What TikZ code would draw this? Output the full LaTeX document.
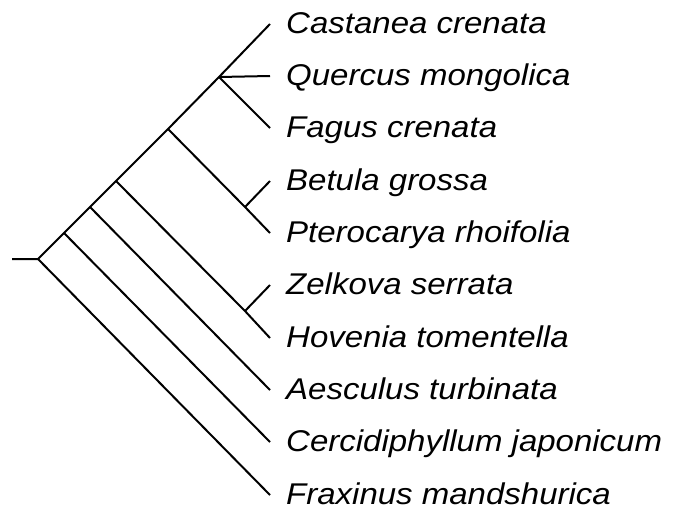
\documentclass[tikz,border=0pt]{standalone}
\usepackage{fontspec}
\setmainfont{Liberation Sans}
\newfontfamily\labfont[FakeStretch=1.1]{Liberation Sans}
\begin{document}
\begin{tikzpicture}[x=1pt,y=-1pt,
  branch/.style={line width=2pt, line join=round},
  taxon/.style={anchor=base west, inner sep=0pt, font=\labfont\itshape\fontsize{30}{31}\selectfont}]
\useasboundingbox (0,0) rectangle (676,512);
% tips
\coordinate (t0) at (270,24);
\coordinate (t1) at (270,76);
\coordinate (t2) at (270,128);
\coordinate (t3) at (270,181);
\coordinate (t4) at (270,233);
\coordinate (t5) at (270,285);
\coordinate (t6) at (270,338);
\coordinate (t7) at (270,390);
\coordinate (t8) at (270,442);
\coordinate (t9) at (270,495);
% internal nodes
\coordinate (stub) at (12,259);
\coordinate (r) at (38,259);
\coordinate (n1) at (64,233);
\coordinate (n2) at (90,207);
\coordinate (n3) at (116,181);
\coordinate (n4) at (168,129);
\coordinate (n5) at (219,77);
\coordinate (bp) at (245,207);
\coordinate (zh) at (245,311);
% branches
\draw[branch] (stub) -- (r) -- (n1) -- (n2) -- (n3) -- (n4) -- (n5) -- (t0);
\draw[branch] (n5) -- (t1);
\draw[branch] (n5) -- (t2);
\draw[branch] (n4) -- (bp) -- (t4);
\draw[branch] (bp) -- (t3);
\draw[branch] (n3) -- (zh) -- (t6);
\draw[branch] (zh) -- (t5);
\draw[branch] (n2) -- (t7);
\draw[branch] (n1) -- (t8);
\draw[branch] (r) -- (t9);
% labels
\node[taxon] (l0) at (286,24+9) {Castanea crenata};
\node[taxon] (l1) at (286,76+9) {Quercus mongolica};
\node[taxon] (l2) at (286,128+9) {Fagus crenata};
\node[taxon] (l3) at (286,181+9) {Betula grossa};
\node[taxon] (l4) at (286,233+9) {Pterocarya rhoifolia};
\node[taxon] (l5) at (286,285+9) {Zelkova serrata};
\node[taxon] (l6) at (286,338+9) {Hovenia tomentella};
\node[taxon] (l7) at (286,390+9) {Aesculus turbinata};
\node[taxon] (l8) at (286,442+9) {Cercidiphyllum japonicum};
\node[taxon] (l9) at (286,495+9) {Fraxinus mandshurica};
\end{tikzpicture}
\end{document}
